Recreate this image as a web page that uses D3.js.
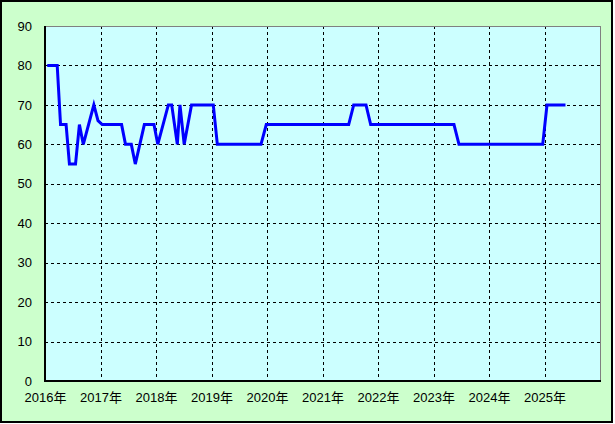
<!DOCTYPE html>
<html>
<head>
<meta charset="utf-8">
<script src="https://cdn.jsdelivr.net/npm/d3@7"></script>
<style>
html, body { margin: 0; padding: 0; background: #ffffff; }
svg { display: block; }
</style>
</head>
<body>
<svg id="chart" width="615" height="424"></svg>
<script>
// Data: date (decimal year) and value
const dates = [2016.04, 2016.22, 2016.28, 2016.38, 2016.44, 2016.55, 2016.62, 2016.69,
  2016.88, 2016.955, 2017.03, 2017.38, 2017.45, 2017.555, 2017.627, 2017.79, 2017.964,
  2018.032, 2018.222, 2018.283, 2018.384, 2018.432, 2018.508, 2018.64, 2019.032, 2019.105,
  2019.892, 2019.987, 2021.472, 2021.562, 2021.784, 2021.868, 2023.369, 2023.459,
  2024.968, 2025.045, 2025.378];
const values = [80, 80, 65, 65, 55, 55, 65, 60,
  70, 66, 65, 65, 60, 60, 55, 65, 65,
  60, 70, 70, 60, 70, 60, 70, 70, 60,
  60, 65, 65, 70, 70, 65, 65, 60,
  60, 70, 70];
const yearTicks = [2016, 2017, 2018, 2019, 2020, 2021, 2022, 2023, 2024, 2025];
const yearLabels = yearTicks.map(y => y + "年");
const yTicks = [0, 10, 20, 30, 40, 50, 60, 70, 80, 90];

const svg = d3.select("#chart");
const W = 615, H = 424;
const plot = { left: 45, top: 26, right: 600, bottom: 381 };

// outer background + border
svg.append("rect").attr("x", 1).attr("y", 1).attr("width", 611).attr("height", 421)
  .attr("fill", "#CCFFCC").attr("stroke", "#000").attr("stroke-width", 2);

const x = d3.scaleLinear().domain([2016, 2026]).range([plot.left, plot.right]);
const y = d3.scaleLinear().domain([0, 90]).range([plot.bottom, plot.top]);

// plot background
svg.append("rect").attr("x", plot.left).attr("y", plot.top)
  .attr("width", plot.right - plot.left).attr("height", plot.bottom - plot.top)
  .attr("fill", "#CCFFFF");

// gridlines
const grid = svg.append("g").attr("stroke", "#000").attr("stroke-width", 1)
  .attr("stroke-dasharray", "3,3").attr("shape-rendering", "crispEdges");
yTicks.filter(t => t > 0 && t < 90).forEach(t => {
  grid.append("line").attr("x1", plot.left).attr("x2", plot.right)
    .attr("y1", Math.round(y(t)) + 0.5).attr("y2", Math.round(y(t)) + 0.5);
});
yearTicks.filter(t => t > 2016).forEach(t => {
  grid.append("line").attr("y1", plot.top).attr("y2", plot.bottom)
    .attr("x1", Math.round(x(t)) + 0.5).attr("x2", Math.round(x(t)) + 0.5);
});

// plot frame: top/right gray, left/bottom black
const frame = svg.append("g").attr("shape-rendering", "crispEdges");
frame.append("line").attr("x1", plot.left).attr("x2", plot.right + 1)
  .attr("y1", plot.top + 0.5).attr("y2", plot.top + 0.5).attr("stroke", "#808080");
frame.append("line").attr("x1", plot.right + 0.5).attr("x2", plot.right + 0.5)
  .attr("y1", plot.top).attr("y2", plot.bottom).attr("stroke", "#808080");

// axes
const yAxis = svg.append("g").attr("transform", `translate(${plot.left},0)`)
  .call(d3.axisLeft(y).tickValues(yTicks).tickSize(0).tickPadding(13).tickFormat(d3.format("d")));
const xAxis = svg.append("g").attr("transform", `translate(0,${plot.bottom})`)
  .call(d3.axisBottom(x).tickValues(yearTicks).tickSize(0).tickPadding(12)
    .tickFormat((d, i) => yearLabels[i]));
[yAxis, xAxis].forEach(a => {
  a.select(".domain").attr("stroke", "#000").attr("stroke-width", 2).attr("shape-rendering", "crispEdges");
  a.selectAll("text").attr("font-family", "'Liberation Sans', Arial, 'Noto Sans CJK JP', sans-serif")
    .attr("font-size", 13).attr("fill", "#000");
});
xAxis.select(".domain").attr("d", `M${plot.left},0H${plot.right + 1}`);
yAxis.select(".domain").attr("d", `M0,${plot.top}V${plot.bottom + 1}`);

// line
const pts = dates.map((d, i) => [d, values[i]]);
svg.append("path").datum(pts)
  .attr("fill", "none").attr("stroke", "#0000FF").attr("stroke-width", 3)
  .attr("stroke-linejoin", "miter")
  .attr("d", d3.line().x(d => x(d[0])).y(d => y(d[1])));
</script>
</body>
</html>
